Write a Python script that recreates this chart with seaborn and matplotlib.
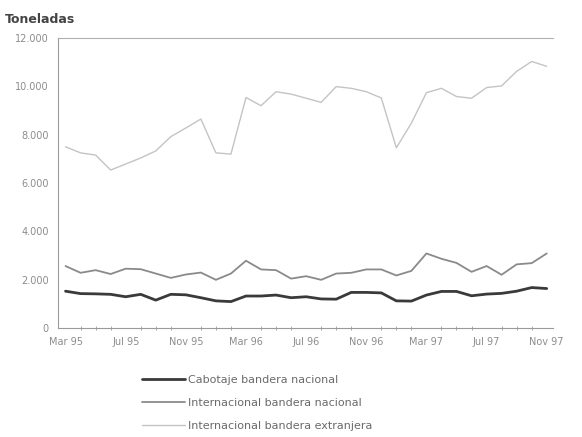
# -*- coding: utf-8 -*-

import numpy as np
import pandas as pd
import matplotlib
matplotlib.use('Agg')
import matplotlib.pyplot as plt
from matplotlib.ticker import FuncFormatter, MultipleLocator
import seaborn as sns

# Monthly series, Mar 95 - Nov 97 (toneladas)
months = ['Mar 95', 'Abr 95', 'May 95', 'Jun 95', 'Jul 95', 'Ago 95',
          'Sep 95', 'Oct 95', 'Nov 95', 'Dic 95', 'Ene 96', 'Feb 96',
          'Mar 96', 'Abr 96', 'May 96', 'Jun 96', 'Jul 96', 'Ago 96',
          'Sep 96', 'Oct 96', 'Nov 96', 'Dic 96', 'Ene 97', 'Feb 97',
          'Mar 97', 'Abr 97', 'May 97', 'Jun 97', 'Jul 97', 'Ago 97',
          'Sep 97', 'Oct 97', 'Nov 97']

cabotaje = [1530, 1430, 1420, 1400, 1300, 1400, 1160, 1400, 1380, 1260,
            1130, 1100, 1330, 1330, 1370, 1260, 1300, 1210, 1200, 1480,
            1480, 1460, 1130, 1120, 1370, 1520, 1520, 1340, 1410, 1440,
            1530, 1680, 1640]

intl_nacional = [2570, 2290, 2400, 2240, 2460, 2440, 2260, 2080, 2220, 2300,
                 2000, 2260, 2790, 2430, 2400, 2050, 2150, 2000, 2260, 2290,
                 2430, 2430, 2180, 2370, 3090, 2870, 2700, 2330, 2570, 2210,
                 2640, 2690, 3090]

intl_extranjera = [7500, 7250, 7160, 6540, 6790, 7040, 7330, 7920, 8280, 8650,
                   7250, 7200, 9540, 9200, 9780, 9680, 9510, 9340, 9990, 9920,
                   9780, 9520, 7460, 8480, 9740, 9920, 9580, 9510, 9950, 10020,
                   10620, 11030, 10830]

series_names = ['Cabotaje bandera nacional',
                'Internacional bandera nacional',
                'Internacional bandera extranjera']
tick_labels = ['Mar 95', 'Jul 95', 'Nov 95', 'Mar 96', 'Jul 96',
               'Nov 96', 'Mar 97', 'Jul 97', 'Nov 97']


def build_frame():
    # Long format for seaborn
    idx = np.arange(len(months))
    frames = []
    for name, vals in zip(series_names,
                          [cabotaje, intl_nacional, intl_extranjera]):
        frames.append(pd.DataFrame({'mes': idx, 'toneladas': vals,
                                    'serie': name}))
    return pd.concat(frames, ignore_index=True)


def main():
    sns.set_style('white')
    plt.rcParams['font.family'] = ['DejaVu Sans']

    df = build_frame()
    colors = ['#3a3a3a', '#8a8a8a', '#c4c4c4']
    widths = {series_names[0]: 2.0,
              series_names[1]: 1.3,
              series_names[2]: 1.0}

    fig = plt.figure(figsize=(5.82, 4.37), dpi=100)
    ax = fig.add_axes([0.0997, 0.249, 0.85, 0.664])

    sns.lineplot(data=df, x='mes', y='toneladas', hue='serie',
                 palette=colors, ax=ax, legend=False)
    for line, name in zip(ax.lines, series_names):
        line.set_linewidth(widths[name])

    ax.set_xlim(-0.5, 32.4)
    ax.set_ylim(0, 12000)
    ax.set_xlabel('')
    ax.set_ylabel('')

    # Axes styling
    ax.spines['right'].set_visible(False)
    ax.spines['top'].set_color('#b0b0b0')
    ax.spines['top'].set_linewidth(0.8)
    for side in ['left', 'bottom']:
        ax.spines[side].set_color('#9a9a9a')
        ax.spines[side].set_linewidth(0.8)

    ax.yaxis.set_major_locator(MultipleLocator(2000))
    ax.yaxis.set_major_formatter(
        FuncFormatter(lambda v, p: '{:,.0f}'.format(v).replace(',', '.')))
    ax.set_xticks(np.arange(0, len(months), 4))
    ax.set_xticklabels(tick_labels)
    ax.set_xticks(np.arange(len(months)), minor=True)
    ax.tick_params(axis='both', which='major', labelsize=7,
                   labelcolor='#8c8c8c', color='#9a9a9a',
                   length=3, width=0.8, direction='out')
    ax.tick_params(axis='x', which='major', direction='inout', length=4,
                   pad=4)
    ax.tick_params(axis='x', which='minor', direction='inout', length=3,
                   width=0.6, color='#9a9a9a', bottom=True)

    fig.text(0.009, 0.955, 'Toneladas', fontsize=9, color='#444444',
             fontweight='bold', ha='left', va='center')

    # Legend below the plot
    handles = [plt.Line2D([], [], color=c, lw=widths[n])
               for c, n in zip(colors, series_names)]
    fig.legend(handles, series_names, loc='upper left',
               bbox_to_anchor=(0.244, 0.143), frameon=False,
               fontsize=8, labelcolor='#6a6a6a', handlelength=3.9,
               handletextpad=0.2, labelspacing=1.2, borderaxespad=0,
               borderpad=0)

    plt.savefig('out.png', dpi=100)
    plt.close()


if __name__ == '__main__':
    main()
